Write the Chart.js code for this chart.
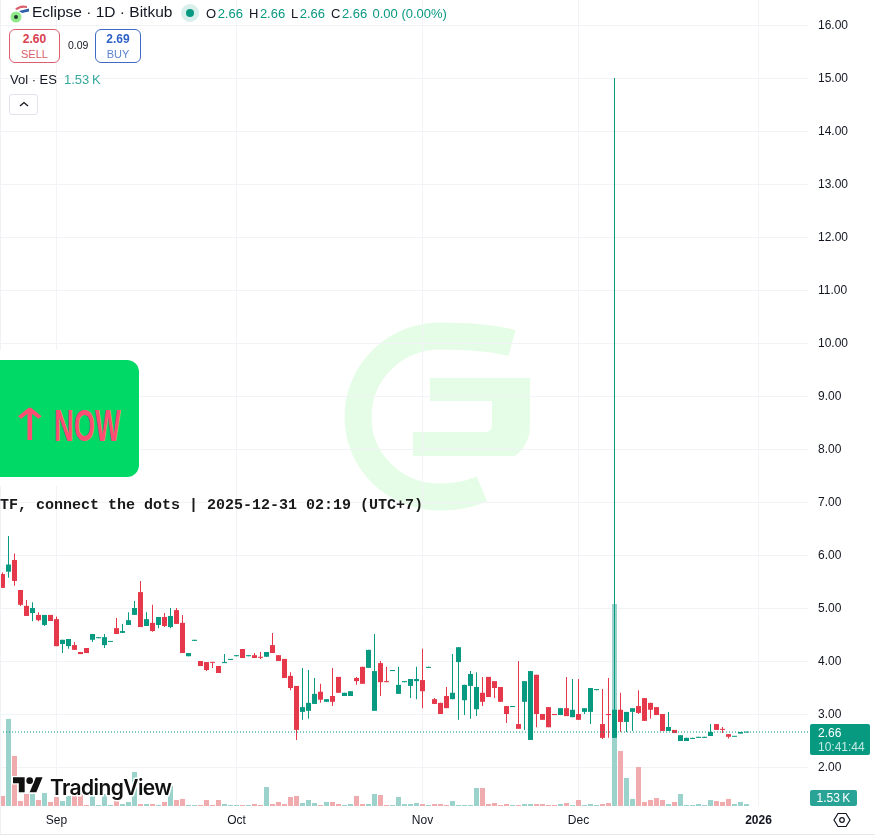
<!DOCTYPE html>
<html>
<head>
<meta charset="utf-8">
<title>Eclipse 1D Bitkub</title>
<script src="https://cdn.jsdelivr.net/npm/chart.js@4"></script>
<style>
	html, body { margin: 0; padding: 0; background: #fff; }
	#wrap { position: relative; width: 875px; height: 835px; overflow: hidden; font-family: "Liberation Sans", Arial, sans-serif; color: #131722; }
	#wrap > * { position: absolute; }
	#watermark { left: 0; top: 0; }
	#priceChart { left: 0; top: 0; }
	.t { white-space: nowrap; line-height: 1; }
	.up { color: #089981; margin-left: 1.5px; }
	.box { box-sizing: border-box; height: 34px; background: #fff; border-radius: 6px; text-align: center; font-size: 11px; padding-top: 3px; }
	.box b { display: block; font-size: 12px; margin-bottom: 2px; line-height: 13px; }
	#sell { left: 9px; top: 29px; width: 51px; border: 1px solid #dd5e6c; color: #dd5e6c; }
	#sell b { color: #d9404f; }
	#buy { left: 95px; top: 29px; width: 46px; border: 1px solid #3f69c4; color: #5d82cf; }
	#buy b { color: #2f62c9; }
	#collapse { left: 9px; top: 94px; width: 29px; height: 21px; box-sizing: border-box; border: 1px solid #e0e3eb; border-radius: 3px; background: #fff; }
	#banner { left: 0; top: 350px; width: 140px; height: 136px; background: #fff; }
	#bannerFill { left: 0; top: 360px; width: 139px; height: 117px; background: #00d966; border-radius: 0 12px 12px 0; }
	#bannerArrow { left: 7px; top: 399px; color: #ff4d73; font: 44px "DejaVu Sans", sans-serif; transform-origin: 0 0; transform: scaleX(1.25); }
	#bannerText { left: 54px; top: 401px; color: #ff4d73; font: bold 44px "Liberation Sans Narrow", "Liberation Sans", sans-serif; transform-origin: 0 0; transform: scaleX(0.62); }
	#stamp { left: 0; top: 497px; font: bold 15px "Liberation Mono", monospace; color: #1a1a1a; }
	#tvText { left: 50px; top: 775px; font: 600 21px Inter, sans-serif; letter-spacing: -0.6px; color: #111; -webkit-text-stroke: 3px #fff; paint-order: stroke fill; }
	#lastPrice { left: 810px; top: 724px; width: 60px; height: 31px; background: #089981; border-radius: 2px; color: #fff; font-size: 12px; }
	#lastPrice span { position: absolute; left: 8px; white-space: nowrap; line-height: 1; }
	#lastVol { left: 810px; top: 790px; width: 47px; height: 16px; background: #2aa397; border-radius: 2px; color: #fff; font-size: 12px; line-height: 16px; text-align: center; }
	#bottomLine { left: 0; top: 834px; width: 875px; height: 1px; background: #e6e8ec; }
	#leftLine { left: 0; top: 0; width: 1px; height: 834px; background: #f0f1f4; }
</style>
</head>
<body>
<div id="wrap">
	<svg id="watermark" width="875" height="835">
		<path d="M512 343C490 337 465 336 440 336C395 336 358 372 358 417C358 462 395 497 440 497C455 497 470 494 482 489" fill="none" stroke="#e5fde6" stroke-width="27"/>
		<path d="M430 378H530V425Q530 445 515 456H413V432H485Q492 432 492 425V401H430Z" fill="#e5fde6"/>
	</svg>
	<canvas id="priceChart" width="875" height="835"></canvas>

	<div id="leftLine"></div>
	<div id="bottomLine"></div>

	<svg style="left:9px;top:3px" width="22" height="22">
		<path d="M6 6Q11 1 18 3L18 5Q12 4 8 7Z" fill="#d9606c"/>
		<path d="M10 8L20 5.5L20 8.5L13 10Z" fill="#2f5fa8"/>
		<circle cx="7" cy="14" r="5.5" fill="#8fe88a"/>
		<circle cx="7" cy="14" r="2" fill="#1d3a2a"/>
	</svg>
	<div class="t" style="left:32px;top:4px;font-size:15.5px">Eclipse · 1D · Bitkub</div>
	<svg style="left:181px;top:4px" width="18" height="18">
		<circle cx="9" cy="9" r="9" fill="#d9efeb"/>
		<circle cx="9" cy="9" r="4" fill="#089981"/>
	</svg>
	<div class="t" style="left:206px;top:7px;font-size:13px">O<span class="up">2.66</span></div>
	<div class="t" style="left:249px;top:7px;font-size:13px">H<span class="up">2.66</span></div>
	<div class="t" style="left:291px;top:7px;font-size:13px">L<span class="up">2.66</span></div>
	<div class="t" style="left:331px;top:7px;font-size:13px">C<span class="up">2.66</span></div>
	<div class="t up" style="left:371px;top:7px;font-size:13px">0.00 (0.00%)</div>

	<div id="sell" class="box"><b>2.60</b>SELL</div>
	<div class="t" style="left:68px;top:40px;font-size:10.5px">0.09</div>
	<div id="buy" class="box"><b>2.69</b>BUY</div>

	<div class="t" style="left:10px;top:73px;font-size:13px">Vol · ES</div>
	<div class="t" style="left:64px;top:73px;font-size:13px;color:#37a99c">1.53&#8239;K</div>
	<div id="collapse">
		<svg width="27" height="19" style="position:absolute;left:0;top:0"><path d="M10 11L14 7.5L18 11" fill="none" stroke="#131722" stroke-width="1.3"/></svg>
	</div>

	<div id="banner"></div>
	<div id="bannerFill"></div>
	<div id="bannerArrow" class="t">↑</div>
	<div id="bannerText" class="t">NOW</div>
	<div id="stamp" class="t">TF, connect the dots | 2025-12-31 02:19 (UTC+7)</div>

	<svg style="left:12px;top:774px;overflow:visible" width="32" height="20">
		<g transform="translate(1,0) scale(0.833)" style="paint-order:stroke fill" stroke="#fff" stroke-width="3" fill="#111">
			<path d="M14 22H7V11H0V4h14v18zM28 22h-8l7.5-18h8L28 22z"/>
			<circle cx="20" cy="8" r="4"/>
		</g>
	</svg>
	<div id="tvText" class="t">TradingView</div>

	<div id="lastPrice"><span style="top:3px">2.66</span><span style="top:17px;color:#c3ebe4">10:41:44</span></div>
	<div id="lastVol">1.53&#8239;K</div>
	<svg style="left:833px;top:811px" width="18" height="18">
		<path d="M5 2.5H13L17 9L13 15.5H5L1 9Z" fill="none" stroke="#131722" stroke-width="1.2"/>
		<circle cx="9" cy="9" r="2.3" fill="none" stroke="#131722" stroke-width="1.2"/>
	</svg>
</div>

<script>
// Daily candles
const opens = [5.64,5.685,5.905,5.34,5.04,4.905,4.87,4.68,4.87,4.79,4.32,4.28,4.30,4.17,4.245,4.40,4.43,4.30,4.36,4.62,4.53,4.68,4.87,5.30,4.66,4.72,4.68,4.83,4.64,4.96,4.72,4.09,4.38,4.0,3.98,3.98,3.906,3.96,4.02,4.09,4.227,4.09,4.11,4.08,4.08,4.30,4.11,4.04,3.72,3.53,3.04,3.06,3.19,3.42,3.23,3.34,3.70,3.34,3.34,3.68,3.89,3.87,3.06,3.96,3.62,3.81,3.38,3.60,3.53,3.62,3.64,3.87,3.28,3.21,3.34,3.28,3.98,3.26,3.53,3.09,3.40,3.70,3.62,3.51,3.15,3.13,2.81,3.23,2.51,3.74,3.0,3.13,3.0,2.98,3.11,2.94,3.0,3.04,3.04,3.45,2.81,3.0,2.55,3.08,2.85,3.04,3.15,3.30,3.21,3.13,3.0,2.68,2.70,2.49,2.49,2.53,2.55,2.55,2.585,2.81,2.72,2.62,2.57,2.63,2.65];
const highs = [5.67,6.36,6.03,5.34,5.15,5.11,4.92,4.87,4.87,4.84,4.40,4.415,4.36,4.17,4.245,4.51,4.45,4.51,4.37,4.81,4.70,4.92,5.13,5.51,4.92,5.06,4.83,4.905,5.0,5.0,4.87,4.15,4.40,4.0,3.98,3.98,3.906,4.13,4.04,4.11,4.227,4.11,4.15,4.17,4.17,4.53,4.11,4.04,3.79,3.53,3.87,3.83,3.68,3.57,3.28,3.87,3.70,3.40,3.43,3.70,3.89,4.21,4.51,4.0,3.89,3.83,3.89,3.62,3.66,3.89,4.23,3.89,3.30,3.21,3.51,4.13,4.26,3.55,3.81,3.79,3.70,3.70,3.62,3.51,3.15,3.15,4.0,3.62,3.81,3.74,3.0,3.13,3.0,3.11,3.70,3.66,3.66,3.11,3.49,3.47,3.47,3.68,15.0,3.40,3.04,3.11,3.45,3.30,3.21,3.13,3.0,3.04,2.70,2.60,2.55,2.55,2.57,2.57,2.81,2.81,2.755,2.62,2.58,2.66,2.66];
const lows = [5.38,5.57,5.42,5.04,4.85,4.75,4.75,4.66,4.755,4.28,4.15,4.23,4.21,4.13,4.15,4.36,4.43,4.245,4.36,4.51,4.53,4.68,4.87,4.64,4.66,4.55,4.62,4.64,4.62,4.70,4.15,4.09,4.38,3.905,3.81,3.87,3.774,3.96,4.02,4.09,4.057,4.09,4.057,4.04,4.08,4.15,4.0,3.68,3.45,2.51,2.89,2.91,3.19,3.21,3.23,3.15,3.40,3.34,3.34,3.55,3.57,3.87,3.06,3.34,3.60,3.81,3.38,3.60,3.30,3.28,3.11,3.87,3.19,3.0,3.11,3.28,2.89,2.98,2.91,2.96,3.15,3.32,3.30,3.23,2.83,3.13,2.72,2.70,2.51,2.75,2.89,2.75,2.98,2.98,2.96,2.94,2.89,3.0,2.81,3.45,2.53,2.55,2.55,2.66,2.66,2.68,3.0,2.87,2.91,2.98,2.68,2.68,2.64,2.49,2.49,2.53,2.55,2.55,2.585,2.70,2.64,2.54,2.57,2.63,2.65];
const closes = [5.38,5.82,5.51,5.06,4.85,5.0,4.77,4.87,4.755,4.28,4.40,4.415,4.21,4.13,4.15,4.51,4.45,4.45,4.37,4.51,4.565,4.77,5.0,4.64,4.79,4.565,4.83,4.66,4.85,4.70,4.15,4.15,4.40,3.905,3.83,3.965,3.774,3.98,4.04,4.11,4.057,4.11,4.057,4.06,4.17,4.15,4.0,3.68,3.49,2.70,3.13,3.21,3.38,3.27,3.28,3.23,3.40,3.40,3.43,3.62,3.57,4.21,3.81,3.60,3.60,3.83,3.55,3.62,3.66,3.66,3.43,3.89,3.19,3.0,3.11,3.40,4.26,3.55,3.755,3.51,3.23,3.32,3.49,3.23,3.0,3.15,2.72,3.62,3.81,3.0,2.89,2.75,2.98,3.11,2.96,3.08,2.89,3.11,3.49,3.47,2.55,2.98,3.08,2.85,3.04,3.11,3.02,2.87,3.08,2.98,2.68,2.755,2.64,2.60,2.55,2.55,2.57,2.57,2.66,2.70,2.70,2.57,2.58,2.66,2.66];
// Volume in thousands
const volumes = [7.7,66.6,38.3,3.8,9.2,9.2,4.6,9.9,3.1,6.9,3.8,7.7,9.2,9.9,0.77,7.7,0.77,9.2,0.77,5.4,1.53,3.1,26,1.53,1.53,1.53,0.77,3.1,15.3,4.6,5.4,0.77,0.77,0.77,4.6,0.77,4.6,1.53,0.77,0.77,0.77,0.77,1.53,0.77,14.5,1.53,3.1,1.53,6.9,7.7,2.3,4.6,2.3,0.77,3.1,3.1,1.53,0.77,1.53,7.7,1.53,1.53,9.2,8.4,0.77,0.77,6.9,1.53,1.53,2.3,1.53,0.77,1.53,1.53,0.77,3.8,0.77,0.77,0.77,13.8,13.8,1.53,2.3,0.77,1.53,0.77,0.77,1.53,1.53,1.53,1.53,0.77,0.77,1.53,2.3,0.77,4.6,0.77,1.53,0.77,1.53,2.3,154.5,42.1,21.4,5.4,29.8,3.1,4.6,6.1,4.6,1.53,3.1,9.2,0.77,0.77,1.53,0.77,4.6,3.8,3.1,5.4,1.53,3.1,1.53];

const lastClose = 2.66;
const priceTicks = [2,3,4,5,6,7,8,9,10,11,12,13,14,15,16];
const timeTickBars = [9,39,70,96,126];
const timeTickLabels = ["Sep","Oct","Nov","Dec","2026"];

const upColor = "#089981";
const downColor = "#e5384a";
const upVolColor = "#9bd3cc";
const downVolColor = "#efabad";
const barPitch = 6;
const gridColor = "#f1f3f6";

function isUp(i) {
	return closes[i] >= opens[i];
}

// Bars sit on a linear x axis so the view can run past the last candle
const xMin = -2.5 / barPitch;
const xMax = (808 - 2.5) / barPitch;

const volumeData = volumes.map((v, i) => ({ x: i, y: v }));
const wickData = highs.map((h, i) => ({ x: i, y: [lows[i], h] }));
const bodyData = opens.map((o, i) => ({ x: i, y: [Math.min(o, closes[i]), Math.max(o, closes[i])] }));

new Chart(document.getElementById("priceChart").getContext("2d"), {
	type: "bar",
	data: {
		datasets: [
			{
				label: "Volume",
				data: volumeData,
				yAxisID: "vol",
				order: 3,
				grouped: false,
				barThickness: 5,
				inflateAmount: 0,
				backgroundColor: volumes.map((v, i) => (isUp(i) ? upVolColor : downVolColor)),
			},
			{
				label: "Wick",
				data: wickData,
				yAxisID: "y",
				order: 2,
				grouped: false,
				barThickness: 1,
				inflateAmount: 0,
				backgroundColor: highs.map((h, i) => (isUp(i) ? upColor : downColor)),
			},
			{
				label: "Body",
				data: bodyData,
				yAxisID: "y",
				order: 1,
				grouped: false,
				barThickness: 5,
				inflateAmount: 0,
				minBarLength: 1,
				backgroundColor: opens.map((o, i) => (isUp(i) ? upColor : downColor)),
			},
			{
				type: "line",
				label: "Last",
				data: [{ x: xMin, y: lastClose }, { x: xMax, y: lastClose }],
				yAxisID: "y",
				order: 0,
				borderColor: upColor,
				borderWidth: 1,
				borderDash: [1, 2],
				pointRadius: 0,
			},
		],
	},
	options: {
		responsive: false,
		animation: false,
		events: [],
		layout: { padding: 0, autoPadding: false },
		plugins: {
			legend: { display: false },
			tooltip: { enabled: false },
		},
		scales: {
			x: {
				type: "linear",
				offset: false,
				min: xMin,
				max: xMax,
				afterBuildTicks: function (scale) {
					scale.ticks = timeTickBars.map((b) => ({ value: b }));
				},
				afterFit: function (scale) {
					scale.height = 29;
					scale.paddingLeft = 0;
					scale.paddingRight = 0;
				},
				grid: { color: gridColor, drawTicks: false, offset: false },
				border: { display: false },
				ticks: {
					autoSkip: false,
					maxRotation: 0,
					padding: 7,
					color: "#131722",
					font: function (ctx) {
						const isYear = ctx.index === timeTickBars.length - 1;
						return { family: "Liberation Sans", size: 12, weight: isYear ? "bold" : "normal" };
					},
					callback: function (value, index) {
						return timeTickLabels[index];
					},
				},
			},
			y: {
				position: "right",
				min: 16 - 781 / 53,
				max: 16 + 25 / 53,
				afterBuildTicks: function (scale) {
					scale.ticks = priceTicks.map((p) => ({ value: p }));
				},
				afterFit: function (scale) {
					scale.width = 67;
					scale.paddingTop = 0;
					scale.paddingBottom = 0;
				},
				grid: { color: gridColor, drawTicks: false },
				border: { display: false },
				ticks: {
					padding: 10,
					labelOffset: 1,
					color: "#131722",
					font: { family: "Liberation Sans", size: 12 },
					callback: function (value) {
						return value.toFixed(2);
					},
				},
			},
			vol: {
				display: false,
				min: 0,
				max: (154.5 * 806) / 202,
			},
		},
	},
});
</script>
</body>
</html>
